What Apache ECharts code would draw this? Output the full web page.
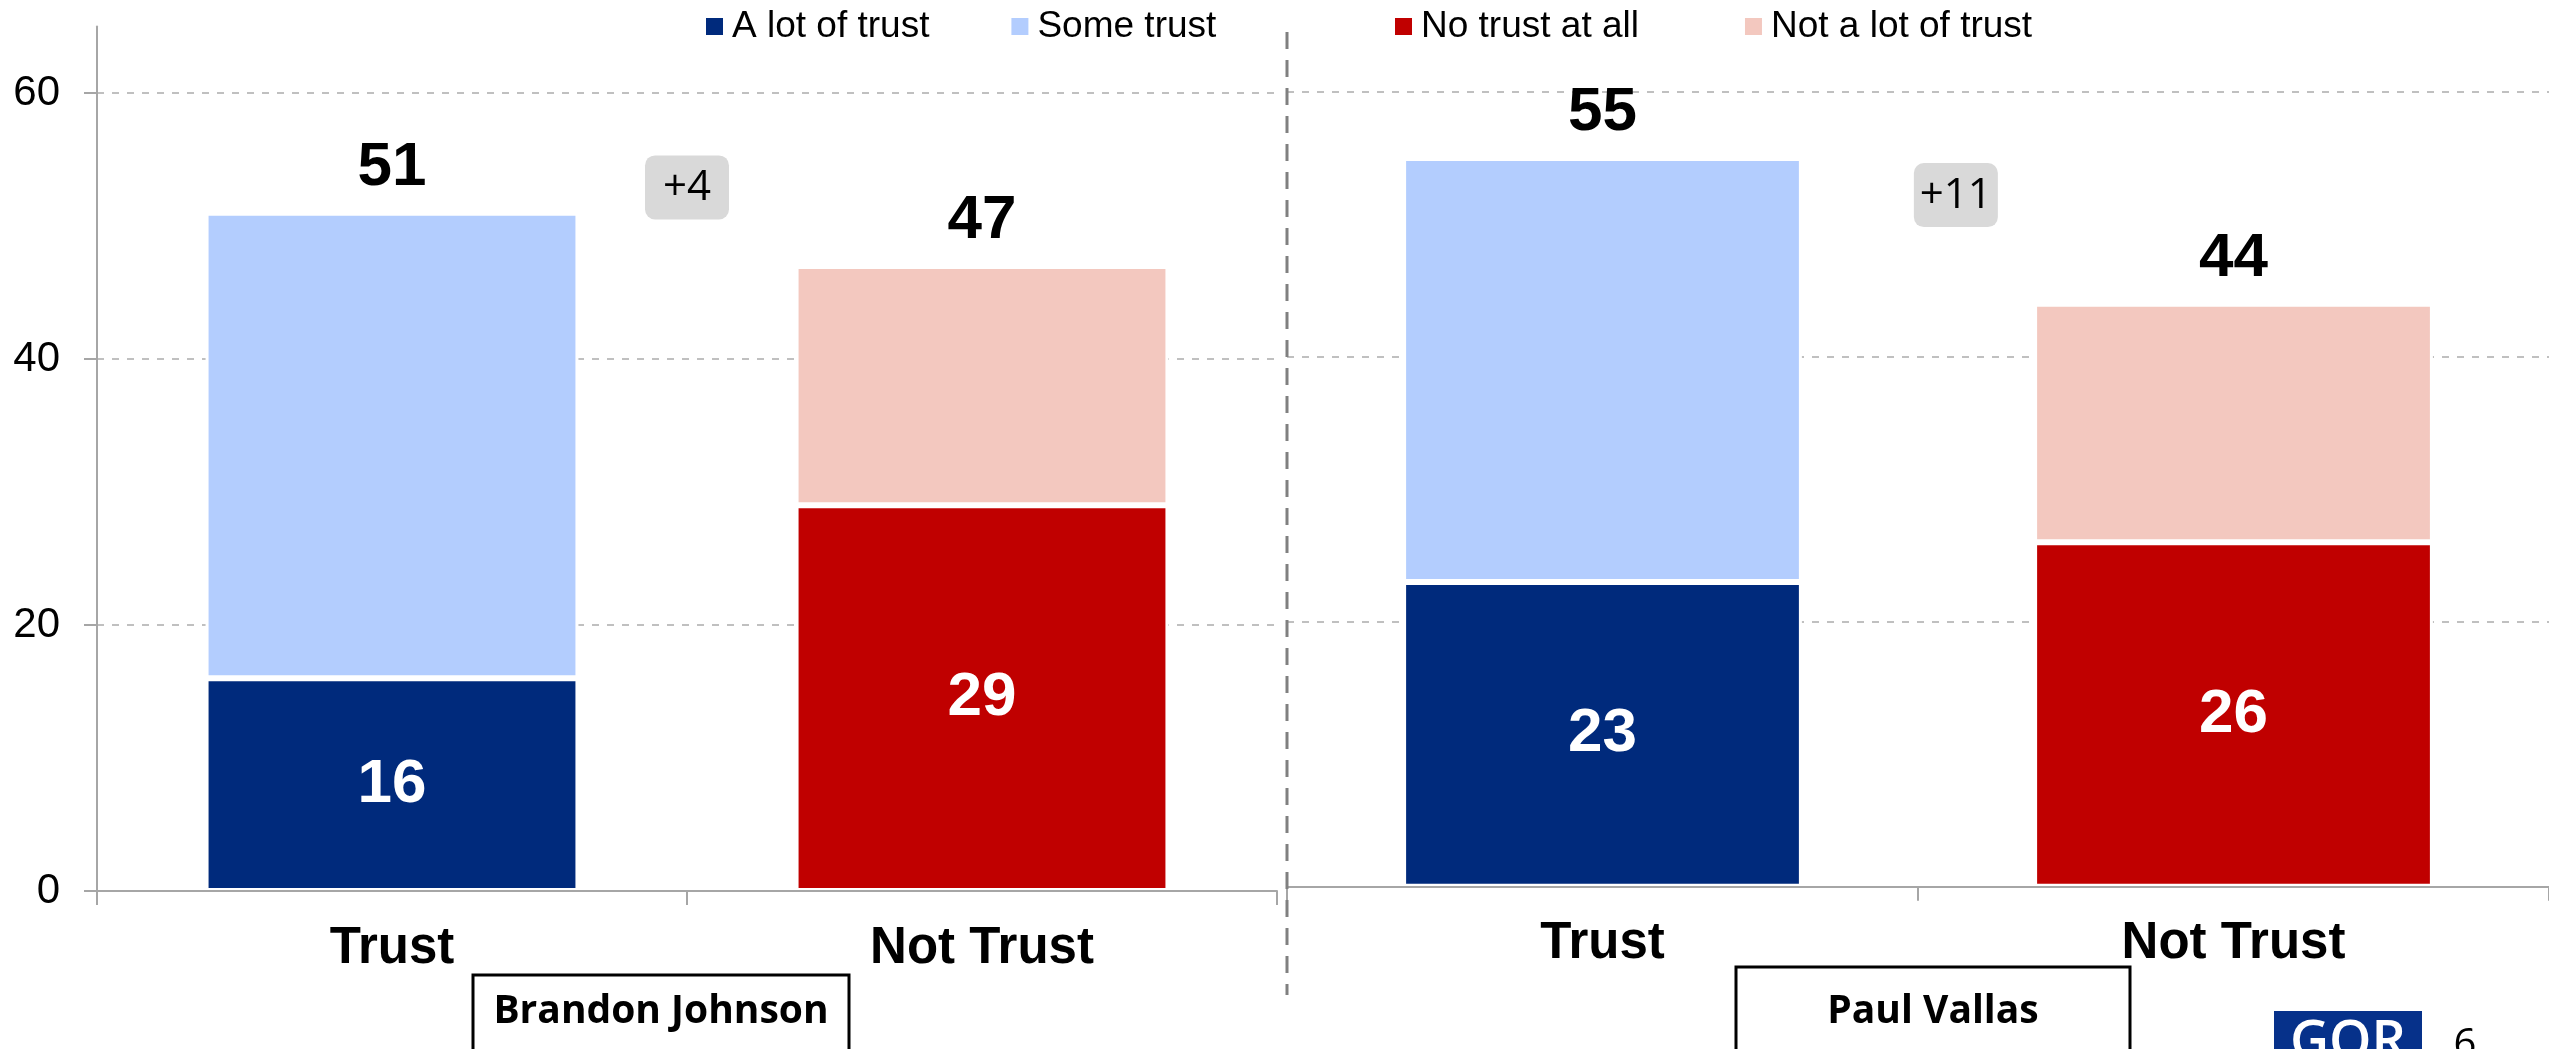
<!DOCTYPE html>
<html><head><meta charset="utf-8">
<script src="https://cdn.jsdelivr.net/npm/echarts@6/dist/echarts.min.js"></script>
<style>html,body{margin:0;padding:0;background:#fff;overflow:hidden}#c{width:2549px;height:1049px}</style>
</head><body><div id="c"></div>
<script>
// ---- data ----
const categories = ['Trust', 'Not Trust'];
const panelNames = ['Brandon Johnson', 'Paul Vallas'];
const aLotOfTrust = [16, 23];
const someTrust = [35, 32];
const noTrustAtAll = [29, 26];
const notALotOfTrust = [18, 18];
const yTicks = [0, 20, 40, 60];
const seriesNames = ['A lot of trust', 'Some trust', 'No trust at all', 'Not a lot of trust'];

// ---- styles / layout ----
const colors = {'A lot of trust': '#002a7c', 'Some trust': '#b3cdfe', 'No trust at all': '#c00000', 'Not a lot of trust': '#f3c8bf'};
const FONT = "'Liberation Sans', Arial, sans-serif";
const grids = [
  {left: 97, right: 1272, top: 26.5, bottom: 158},
  {left: 1287, right: -8, top: 25.5, bottom: 162.3}
];
const annotPos = [{frac: 0.5, level: 52.9}, {frac: 0.56, level: 52.2}];
const nameBoxes = [{x: 473, y: 975, w: 376}, {x: 1736, y: 967, w: 394}];

const chart = echarts.init(document.getElementById('c'), null, {renderer: 'canvas'});

const xAxes = [], yAxes = [], series = [];
[0, 1].forEach(p => {
  xAxes.push({
    gridIndex: p, type: 'category', data: categories, z: 10,
    axisLine: {lineStyle: {color: '#a6a6a6', width: 2}},
    axisTick: {show: true, length: 14, lineStyle: {color: '#a6a6a6', width: 2}},
    axisLabel: {fontSize: 51, fontWeight: 'bold', color: '#000', margin: 32, fontFamily: FONT}
  });
  yAxes.push({
    gridIndex: p, type: 'value', min: 0, max: 65, interval: 20,
    axisLine: {show: p === 0, lineStyle: {color: '#a6a6a6', width: 2}},
    axisTick: {show: p === 0, length: 13, customValues: yTicks, lineStyle: {color: '#a6a6a6', width: 2}},
    axisLabel: {show: p === 0, customValues: yTicks, fontSize: 42, color: '#000', margin: 37, fontFamily: FONT},
    splitLine: {show: true, showMaxLine: true, showMinLine: false, lineStyle: {color: '#c0c0c0', width: 2, type: [7, 8]}}
  });
  const trustTotal = aLotOfTrust[p] + someTrust[p];
  const notTrustTotal = noTrustAtAll[p] + notALotOfTrust[p];
  const base = {
    type: 'bar', xAxisIndex: p, yAxisIndex: p, stack: 'total' + p, barWidth: '63.2%',
    itemStyle: {borderColor: '#fff', borderWidth: 3}
  };
  const inside = {show: true, position: 'inside', color: '#fff', fontSize: 62, fontWeight: 'bold', fontFamily: FONT};
  const topLbl = (total) => ({show: true, position: 'top', distance: 14, color: '#000', fontSize: 62, fontWeight: 'bold', fontFamily: FONT, formatter: () => String(total)});
  series.push(Object.assign({}, base, {name: 'A lot of trust', data: [aLotOfTrust[p], '-'], itemStyle: Object.assign({}, base.itemStyle, {color: colors['A lot of trust']}), label: inside}));
  series.push(Object.assign({}, base, {name: 'Some trust', data: [someTrust[p], '-'], itemStyle: Object.assign({}, base.itemStyle, {color: colors['Some trust']}), label: topLbl(trustTotal)}));
  series.push(Object.assign({}, base, {name: 'No trust at all', data: ['-', noTrustAtAll[p]], itemStyle: Object.assign({}, base.itemStyle, {color: colors['No trust at all']}), label: inside}));
  series.push(Object.assign({}, base, {name: 'Not a lot of trust', data: ['-', notALotOfTrust[p]], itemStyle: Object.assign({}, base.itemStyle, {color: colors['Not a lot of trust']}), label: topLbl(notTrustTotal)}));
});

const legendCommon = {
  top: 3, icon: 'rect', itemWidth: 19, itemHeight: 19, selectedMode: false,
  textStyle: {fontSize: 37, color: '#000', fontFamily: FONT, padding: [0, 0, 0, 3]}
};

chart.setOption({
  animation: false,
  backgroundColor: '#fff',
  color: seriesNames.map(n => colors[n]),
  grid: grids,
  legend: [
    Object.assign({}, legendCommon, {left: 699, itemGap: 80, data: seriesNames.slice(0, 2)}),
    Object.assign({}, legendCommon, {left: 1388, itemGap: 104, data: seriesNames.slice(2, 4)})
  ],
  xAxis: xAxes,
  yAxis: yAxes,
  series: series
});

// ---- annotations ----
const graphics = [];
[0, 1].forEach(p => {
  const diff = (aLotOfTrust[p] + someTrust[p]) - (noTrustAtAll[p] + notALotOfTrust[p]);
  const a = chart.convertToPixel({gridIndex: p}, [categories[0], annotPos[p].level]);
  const b = chart.convertToPixel({gridIndex: p}, [categories[1], annotPos[p].level]);
  const cx = a[0] + (b[0] - a[0]) * annotPos[p].frac;
  const cy = a[1];
  graphics.push({type: 'rect', z: 20, shape: {x: cx - 42, y: cy - 32, width: 84, height: 64, r: 10}, style: {fill: '#d9d9d9'}});
  graphics.push({type: 'text', z: 21, x: cx, y: cy + 1, style: {text: (diff >= 0 ? '+' : '') + diff, fill: '#000', font: "42px 'Open Sans', sans-serif", align: 'center', verticalAlign: 'middle'}});
  const nb = nameBoxes[p];
  graphics.push({type: 'rect', z: 20, shape: {x: nb.x, y: nb.y, width: nb.w, height: 140}, style: {fill: '#fff', stroke: '#000', lineWidth: 3}});
  graphics.push({type: 'text', z: 21, x: nb.x + nb.w / 2, y: 1012, style: {text: panelNames[p], fill: '#000', font: "bold 39px 'Open Sans', sans-serif", align: 'center', verticalAlign: 'middle'}});
});
// divider between panels
graphics.push({type: 'line', z: 30, shape: {x1: 1287, y1: 32, x2: 1287, y2: 995}, style: {stroke: '#808080', lineWidth: 3, lineDash: [17, 11]}});
// logo + page number
graphics.push({type: 'rect', z: 20, shape: {x: 2274, y: 1011, width: 148, height: 60}, style: {fill: '#06318a'}});
graphics.push({type: 'text', z: 21, x: 2348, y: 1017, style: {text: 'GQR', fill: '#fff', font: "600 54px 'Open Sans', sans-serif", align: 'center', verticalAlign: 'top'}});
graphics.push({type: 'text', z: 21, x: 2465, y: 1026, style: {text: '6', fill: '#000', font: "40px 'Open Sans', sans-serif", align: 'center', verticalAlign: 'top'}});
chart.setOption({graphic: graphics});
</script>
</body></html>
